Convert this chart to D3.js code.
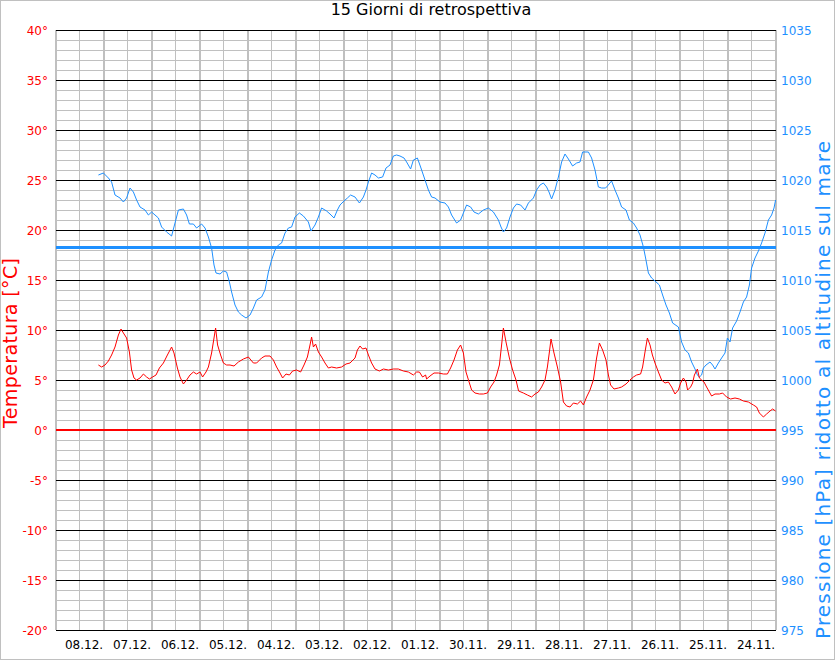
<!DOCTYPE html>
<html><head><meta charset="utf-8">
<script src="https://cdn.jsdelivr.net/npm/d3@7"></script>
<style>
body{margin:0;background:#fff}
svg{display:block}
text{font-family:"DejaVu Sans",Verdana,sans-serif}
</style>
</head><body>
<svg id="chart" width="836" height="661"></svg>
<script>
const title = "15 Giorni di retrospettiva";
const leftTitle = "Temperatura [°C]";
const rightTitle = "Pressione [hPa] ridotto al altitudine sul mare";
const dayLabels = ["08.12.","07.12.","06.12.","05.12.","04.12.","03.12.","02.12.","01.12.","30.11.","29.11.","28.11.","27.11.","26.11.","25.11.","24.11."];
const tempTicks = [-20,-15,-10,-5,0,5,10,15,20,25,30,35,40];
const pressTicks = [975,980,985,990,995,1000,1005,1010,1015,1020,1025,1030,1035];
const refPressure = 1013.25;

// hours from left edge of the time axis
const pressHours = [21.2,23.7,26.2,27.8,29.5,32,33.7,35.3,37,38.7,40.3,42,44.5,46.2,47.8,49.5,51.2,52.8,55.3,57.8,59.5,61.2,63.7,65.3,66.7,68.7,70.3,72.8,74.5,76.2,77.8,79,80,82,83.7,85.3,86.7,87.8,89.5,91.2,92.8,95,97,98.7,100.3,102.8,104.5,106.2,107.8,109.5,111.2,112.8,114.5,116.2,117.8,119.5,121.7,123.7,126.2,127.5,129.5,131.2,132.8,135.3,137,139,140.7,142,144,145.7,147.3,149.5,151.7,153.7,155,156.2,157.8,159.5,161.2,163.3,165,167,168.7,170.3,172,174,175.3,177.3,178.7,180.7,182.3,184,186.2,187.8,189.5,192,194.5,196.2,197.8,200.3,202.3,203.7,205.3,207.3,209,211.2,213.7,216.2,218.7,221.2,222.5,223.7,225.3,227,228.7,230.3,232.3,234.5,236.2,238.7,240.3,242,243.7,245.3,246.5,247.8,249.5,251.2,252.8,254.5,256.2,258.3,260.3,262,263.3,266.2,267.8,269.5,271.2,272.8,274.8,275.7,277.8,279.5,281.2,282.8,285,286.7,288.7,290.3,292,293.7,294.8,296.2,297.8,299.5,301.7,303.3,305,306.7,308.3,311.2,312.8,314.5,316.2,317.8,319.5,320.7,321.7,322.8,323.7,325,327,328.3,329.5,331.2,332.8,334.5,335.7,337,338.3,340.3,342,343.7,345.3,346.7,347.8,349.5,351.2,352.8,354.5,356.2,357.8,359,359.8];
const pressValues = [1020.5,1020.7,1020.2,1019.8,1018.5,1018.2,1017.8,1018.2,1019.2,1018.8,1018.0,1017.3,1017.0,1016.5,1016.8,1016.5,1016.2,1015.3,1014.8,1014.4,1015.7,1017.0,1017.1,1016.5,1015.6,1015.6,1015.2,1015.6,1015.2,1014.3,1013.2,1011.5,1010.7,1010.6,1010.9,1010.8,1009.8,1008.8,1007.5,1006.8,1006.5,1006.2,1006.5,1007.2,1008.0,1008.3,1009.0,1010.8,1012.0,1013.0,1013.5,1013.7,1014.7,1015.2,1015.3,1016.3,1016.7,1016.4,1015.8,1014.9,1015.5,1016.3,1017.2,1016.9,1016.6,1016.2,1017.0,1017.5,1017.9,1018.2,1018.5,1018.3,1017.7,1018.3,1019.0,1019.8,1020.7,1020.5,1020.2,1020.3,1021.2,1021.5,1022.4,1022.5,1022.4,1022.2,1021.8,1021.1,1022.0,1022.2,1021.3,1020.3,1019.0,1018.3,1018.2,1017.8,1017.7,1017.3,1016.5,1015.7,1016.0,1016.7,1017.5,1017.3,1016.8,1016.6,1017.0,1017.2,1016.8,1016.0,1015.3,1014.8,1015.2,1016.3,1017.2,1017.6,1017.5,1017.0,1017.7,1018.2,1019.0,1019.5,1019.7,1019.3,1018.8,1018.1,1019.0,1020.3,1021.8,1022.6,1022.1,1021.4,1021.7,1021.8,1022.8,1022.8,1022.2,1021.0,1019.3,1019.2,1019.2,1019.4,1019.9,1019.0,1018.2,1017.3,1017.0,1016.0,1015.7,1015.2,1014.5,1013.3,1012.2,1010.7,1010.2,1009.9,1009.5,1008.5,1007.5,1006.7,1005.7,1005.3,1003.8,1003.0,1002.7,1001.8,1001.1,1000.5,1000.3,1000.5,1001.2,1001.5,1001.8,1001.5,1001.1,1001.7,1002.2,1002.7,1004.2,1003.8,1005.2,1005.9,1006.8,1007.8,1008.3,1009.5,1011.2,1012.2,1012.9,1013.7,1014.7,1016.0,1016.5,1017.2,1018.0];

const tempHours = [21.2,22.8,24.5,26.2,27.8,29.5,31.2,32.5,33.7,35.3,36.7,37.8,39,40.3,42,43.7,45.3,46.7,48.3,50,51.7,53.7,55.7,57.8,59,60.7,62,63.7,65.3,67,68.7,70.3,72,73.3,75,76.2,77.8,79,79.8,80.8,82.3,83.7,85.3,87,89,91.2,93.7,96.2,98.7,100.3,102.8,104.5,107,108.7,110.3,112,113.3,115,116.7,118.3,120.3,122.3,124,125.7,127,127.8,128.7,129.8,131.2,132.8,134.5,136.2,137.8,140.3,142.8,145,147,149.5,150.7,152,153.3,155,156.2,157.8,159.5,161.7,163.7,166.2,168.7,171.2,173.7,176.2,178.7,180.3,181.7,183.3,184.8,185.3,187,189,191.2,193.7,195.7,197.3,199,200.7,202.3,203.7,205,206.7,207.8,209.5,211.7,213.7,215.7,217.3,219,220.3,221.7,222.8,223.7,225,226.7,228.3,230,231.3,233.7,235.7,237.8,239.5,241.2,242.8,244.5,245.7,246.7,247.5,249,250.7,252.3,253.7,255.3,257,258.7,260.7,262.3,263.7,265.3,267,268.7,270.3,271.7,273.3,275,276.2,277.3,279,281.2,282.8,285,287,288.7,290.3,292.3,293.3,294.5,295.7,297,298.2,299.5,301.2,302.8,304.5,306.2,307.8,309.5,311.2,312.3,313.7,315,315.8,317.3,318.3,319.2,320.7,321.7,322.8,324,325.3,326.7,327.8,329.5,331.7,333.3,335.3,337.3,339.5,341.7,343.7,346.2,348.7,350.3,351.7,353.7,355.3,357,358.3,359.8];
const tempValues = [6.5,6.3,6.5,6.9,7.5,8.3,9.5,10.1,9.7,9.2,7.8,6.0,5.2,5.0,5.2,5.6,5.3,5.1,5.3,5.5,6.2,6.7,7.5,8.3,7.7,6.2,5.3,4.6,5.0,5.5,5.8,5.6,5.8,5.3,5.8,6.3,7.7,9.2,10.2,8.5,7.5,6.7,6.5,6.5,6.4,6.8,7.1,7.3,6.7,6.7,7.2,7.4,7.4,7.0,6.3,5.7,5.2,5.6,5.5,5.9,6.0,5.8,6.5,7.3,8.5,9.3,8.3,8.6,7.8,7.3,6.7,6.2,6.3,6.2,6.3,6.6,6.7,7.2,8.0,8.4,8.1,8.2,7.5,6.7,6.1,5.9,6.1,6.0,6.1,6.1,5.9,5.8,5.5,5.8,5.8,5.3,5.5,5.1,5.4,5.7,5.7,5.6,5.6,6.2,7.0,8.0,8.5,7.7,5.8,4.7,4.0,3.7,3.6,3.6,3.7,4.3,4.8,5.5,6.5,8.5,10.2,8.8,7.2,6.0,5.0,3.9,3.7,3.5,3.3,3.6,3.8,4.3,5.0,6.3,7.8,9.1,7.7,6.3,4.8,2.8,2.4,2.3,2.7,2.6,2.9,2.5,3.3,4.0,5.0,7.2,8.7,8.0,7.0,5.5,4.5,4.1,4.2,4.3,4.6,5.0,5.3,5.5,5.6,6.3,7.8,9.2,8.5,7.5,6.7,5.8,5.0,4.7,4.8,4.3,3.6,4.0,4.7,5.2,4.8,4.0,4.3,4.7,5.5,6.1,5.2,5.0,4.8,4.3,3.8,3.4,3.6,3.6,3.7,3.3,3.1,3.2,3.1,2.9,2.8,2.5,2.3,1.7,1.3,1.6,1.9,2.1,1.9];

const W = 836, H = 661;
const M = {left:56, right:776, top:30, bottom:630};
const red = "#ff0000", blue = "#1e90ff", grid = "#c0c0c0";

const svg = d3.select("#chart");
const x = d3.scaleLinear().domain([0, 360]).range([M.left, M.right]);
const yT = d3.scaleLinear().domain([-20, 40]).range([M.bottom, M.top]);
const yP = d3.scaleLinear().domain([975, 1035]).range([M.bottom, M.top]);

svg.append("rect").attr("x",0.5).attr("y",0.5).attr("width",W-2).attr("height",H-2)
  .attr("fill","#fff").attr("stroke",grid).attr("stroke-width",1);

const g = svg.append("g");
const minor = d3.range(-20, 41, 1).filter(v => v % 5 !== 0);
g.selectAll(".hmin").data(minor).join("line")
  .attr("x1", M.left).attr("x2", M.right)
  .attr("y1", d => yT(d) + 0.5).attr("y2", d => yT(d) + 0.5)
  .attr("stroke", grid).attr("stroke-width", 1);
g.selectAll(".vmin").data(d3.range(12, 360, 24)).join("line")
  .attr("x1", d => x(d) - 0.5).attr("x2", d => x(d) - 0.5)
  .attr("y1", M.top).attr("y2", M.bottom)
  .attr("stroke", grid).attr("stroke-width", 1);
g.selectAll(".vmaj").data(d3.range(0, 361, 24)).join("line")
  .attr("x1", d => x(d)).attr("x2", d => x(d))
  .attr("y1", M.top).attr("y2", M.bottom)
  .attr("stroke", grid).attr("stroke-width", 2);
g.selectAll(".hmaj").data(tempTicks.filter(d => d !== 0)).join("line")
  .attr("x1", M.left).attr("x2", M.right)
  .attr("y1", d => yT(d) + 0.5).attr("y2", d => yT(d) + 0.5)
  .attr("stroke", "#000").attr("stroke-width", 1);

const axL = d3.axisLeft(yT).tickValues(tempTicks).tickSize(0).tickPadding(8)
  .tickFormat(d => d + "°");
const gL = svg.append("g").attr("transform", `translate(${M.left},0.5)`).call(axL);
gL.select(".domain").remove();
gL.selectAll("text").attr("fill", red).attr("font-size", 12).attr("font-family","DejaVu Sans");

const axR = d3.axisRight(yP).tickValues(pressTicks).tickSize(0).tickPadding(5)
  .tickFormat(d3.format("d"));
const gR = svg.append("g").attr("transform", `translate(${M.right},0.5)`).call(axR);
gR.select(".domain").remove();
gR.selectAll("text").attr("fill", blue).attr("font-size", 12).attr("font-family","DejaVu Sans");

const axB = d3.axisBottom(x).tickValues(dayLabels.map((d, i) => 12 + 24 * i))
  .tickSize(0).tickPadding(10).tickFormat((d, i) => dayLabels[i]);
const gB = svg.append("g").attr("transform", `translate(3.5,${M.bottom})`).call(axB);
gB.select(".domain").remove();
gB.selectAll("text").attr("fill", "#000").attr("font-size", 12).attr("font-family","DejaVu Sans");

svg.append("line").attr("x1", M.left).attr("x2", M.right)
  .attr("y1", yT(0)).attr("y2", yT(0)).attr("stroke", red).attr("stroke-width", 2);
svg.append("line").attr("x1", M.left).attr("x2", M.right)
  .attr("y1", Math.round(yP(refPressure)) - 0.5).attr("y2", Math.round(yP(refPressure)) - 0.5)
  .attr("stroke", blue).attr("stroke-width", 3);

const lineP = d3.line().x((d, i) => x(pressHours[i])).y(d => yP(d));
svg.append("path").datum(pressValues).attr("d", lineP)
  .attr("fill", "none").attr("stroke", blue).attr("stroke-width", 1);
const lineT = d3.line().x((d, i) => x(tempHours[i])).y(d => yT(d));
svg.append("path").datum(tempValues).attr("d", lineT)
  .attr("fill", "none").attr("stroke", red).attr("stroke-width", 1);

svg.append("text").attr("x", 431).attr("y", 15).attr("text-anchor", "middle")
  .attr("font-size", 16).attr("fill", "#000").text(title);
svg.append("text").attr("transform", "translate(17,343) rotate(-90)").attr("text-anchor", "middle")
  .attr("font-size", 19).attr("fill", red)
  .attr("textLength", 170).attr("lengthAdjust", "spacing").text(leftTitle);
svg.append("text").attr("transform", "translate(830,390) rotate(-90)").attr("text-anchor", "middle")
  .attr("font-size", 20).attr("fill", blue)
  .attr("textLength", 498).attr("lengthAdjust", "spacing").text(rightTitle);
</script>
</body></html>
